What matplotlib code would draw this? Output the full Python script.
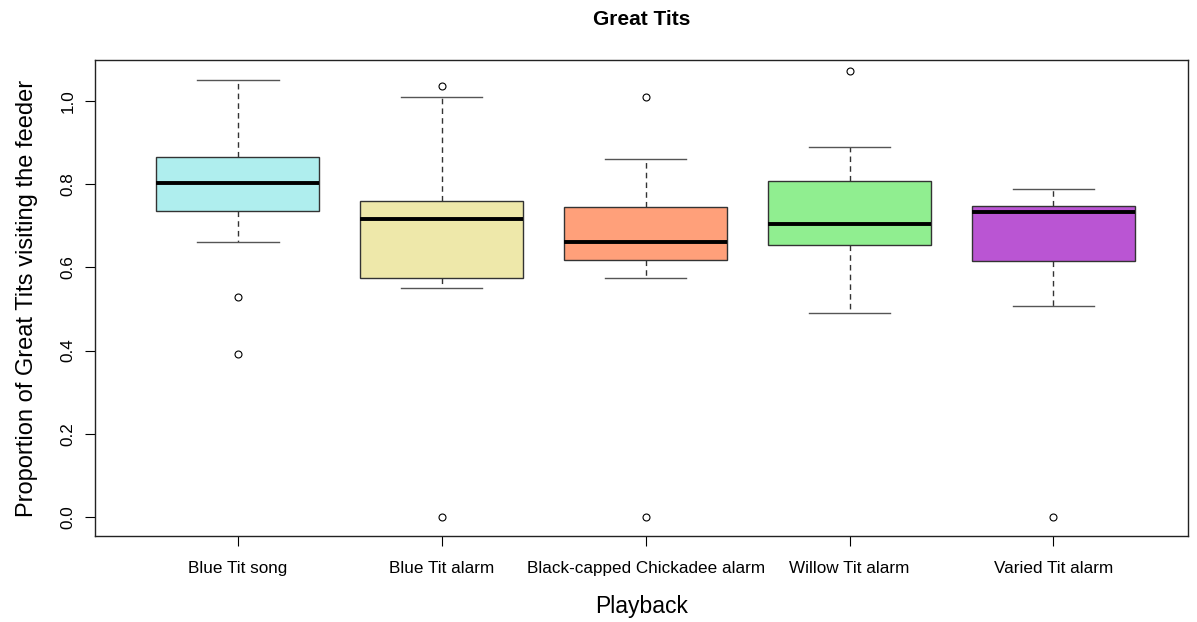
import matplotlib
matplotlib.use('Agg')
import matplotlib.pyplot as plt

plt.rcParams['font.family'] = ['Liberation Sans', 'DejaVu Sans']

# values (per playback group)
labels = ['Blue Tit song', 'Blue Tit alarm', 'Black-capped Chickadee alarm',
          'Willow Tit alarm', 'Varied Tit alarm']
whislo = [0.661, 0.550, 0.575, 0.490, 0.507]
q1 = [0.736, 0.575, 0.618, 0.654, 0.615]
med = [0.803, 0.716, 0.661, 0.704, 0.733]
q3 = [0.865, 0.760, 0.745, 0.808, 0.748]
whishi = [1.050, 1.010, 0.861, 0.889, 0.788]
fliers = [[0.529, 0.392], [1.036, 0.0], [1.010, 0.0], [1.072], [0.0]]
colors = ['#AFEEEE', '#EEE8AA', '#FFA07A', '#90EE90', '#BA55D3']

stats = [dict(label=l, whislo=a, q1=b, med=c, q3=d, whishi=e, fliers=f)
         for l, a, b, c, d, e, f in zip(labels, whislo, q1, med, q3, whishi, fliers)]

fig = plt.figure(figsize=(11.97, 6.22), dpi=100)
ax = fig.add_axes([0.0794, 0.1383, 0.9131, 0.7652])

bp = ax.bxp(stats, positions=range(1, 6), widths=0.8, patch_artist=True,
            boxprops=dict(edgecolor='#333333', linewidth=1.0),
            medianprops=dict(color='black', linewidth=2.8),
            whiskerprops=dict(color='#333333', linestyle=(0, (4, 3)), linewidth=1.0),
            capprops=dict(color='#555555', linewidth=1.0),
            capwidths=0.4,
            flierprops=dict(marker='o', markersize=5, markerfacecolor='none',
                            markeredgecolor='black', markeredgewidth=0.8))
for patch, c in zip(bp['boxes'], colors):
    patch.set_facecolor(c)

ax.set_xlim(0.3, 5.66)
ax.set_ylim(-0.0457, 1.0986)
ax.set_yticks([0.0, 0.2, 0.4, 0.6, 0.8, 1.0])
ax.set_yticklabels(['0.0', '0.2', '0.4', '0.6', '0.8', '1.0'], rotation=90, va='center')
ax.set_xticks(range(1, 6))
ax.set_xticklabels(labels)
ax.tick_params(axis='both', length=7, width=0.8, labelsize=12.3, colors='black')
ax.tick_params(axis='x', pad=11)
ax.tick_params(axis='y', pad=7)
for s in ax.spines.values():
    s.set_linewidth(1.0)
    s.set_color('#222222')

ax.set_xlabel('Playback', fontsize=16.5, labelpad=14)
ax.set_ylabel('Proportion of Great Tits visiting the feeder', fontsize=17, labelpad=16)
ax.set_title('Great Tits', fontsize=15, fontweight='bold', pad=25)

fig.savefig('out.png', dpi=100)
